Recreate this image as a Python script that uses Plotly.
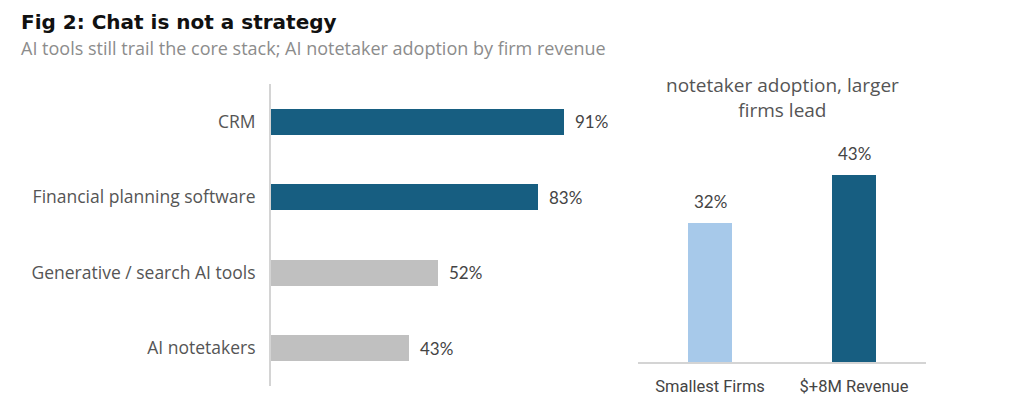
import plotly.graph_objects as go

# Data
tools = ["CRM", "Financial planning software", "Generative / search AI tools", "AI notetakers"]
tool_values = [91, 83, 52, 43]
tool_colors = ["#175e81", "#175e81", "#c0c0c0", "#c0c0c0"]

segments = ["Smallest Firms", "$+8M Revenue"]
segment_values = [32, 43]
segment_colors = ["#a7c9ea", "#175e81"]

OFF = 8
FW, FH = 1009 - OFF, 406 - OFF
def px(x):
    return (x - OFF) / FW
def py(y):
    return (FH - (y - OFF)) / FH

fig = go.Figure()

fig.add_trace(go.Bar(
    y=tools, x=tool_values, orientation="h",
    marker=dict(color=tool_colors, line=dict(width=0)),
    width=0.34, xaxis="x", yaxis="y", showlegend=False, hoverinfo="skip",
))
fig.add_trace(go.Bar(
    x=segments, y=segment_values,
    marker=dict(color=segment_colors, line=dict(width=0)),
    width=0.31, xaxis="x2", yaxis="y2", showlegend=False, hoverinfo="skip",
))

annotations = []
for t, v in zip(tools, tool_values):
    annotations.append(dict(
        x=v, y=t, xref="x", yref="y", text=f"{v}%", showarrow=False,
        xanchor="left", yanchor="middle", xshift=9,
        font=dict(family="Lato", size=17, color="#444444"),
    ))
for s, v in zip(segments, segment_values):
    annotations.append(dict(
        x=s, y=v, xref="x2", yref="y2", text=f"{v}%", showarrow=False,
        xanchor="center", yanchor="bottom", yshift=9,
        font=dict(family="Lato", size=17, color="#444444"),
    ))

annotations.append(dict(
    x=px(19), y=py(22), xref="paper", yref="paper", xanchor="left", yanchor="middle",
    text="<b>Fig 2: Chat is not a strategy</b>", showarrow=False,
    font=dict(family="DejaVu Sans", size=20, color="#111111"),
))
annotations.append(dict(
    x=px(19), y=py(48), xref="paper", yref="paper", xanchor="left", yanchor="middle",
    text="AI tools still trail the core stack; AI notetaker adoption by firm revenue", showarrow=False,
    font=dict(family="Open Sans", size=18, color="#8c8c8c"),
))
annotations.append(dict(
    x=px(782), y=py(97), xref="paper", yref="paper", xanchor="center", yanchor="middle",
    text="notetaker adoption, larger<br>firms lead", showarrow=False,
    font=dict(family="Open Sans", size=19, color="#555555"),
))

fig.update_layout(
    width=FW, height=FH,
    margin=dict(l=0, r=0, t=0, b=0),
    paper_bgcolor="white", plot_bgcolor="white",
    bargap=0,
    xaxis=dict(domain=[px(271), px(593)], range=[0, 100], visible=False, fixedrange=True),
    yaxis=dict(domain=[py(386), py(84)], autorange="reversed", showline=True,
               linecolor="#d4d4d4", linewidth=2, ticks="", showgrid=False,
               tickfont=dict(family="Open Sans", size=17.5, color="#555555"), ticklabelstandoff=10),
    xaxis2=dict(domain=[px(638), px(926)], anchor="y2", showline=True, linecolor="#d4d4d4",
                linewidth=2, ticks="", showgrid=False,
                tickfont=dict(family="Roboto", size=16.5, color="#444444"), ticklabelstandoff=8),
    yaxis2=dict(domain=[py(362), py(145)], anchor="x2", range=[0, 50], visible=False),
    annotations=annotations,
)

fig.write_html("out.html")
